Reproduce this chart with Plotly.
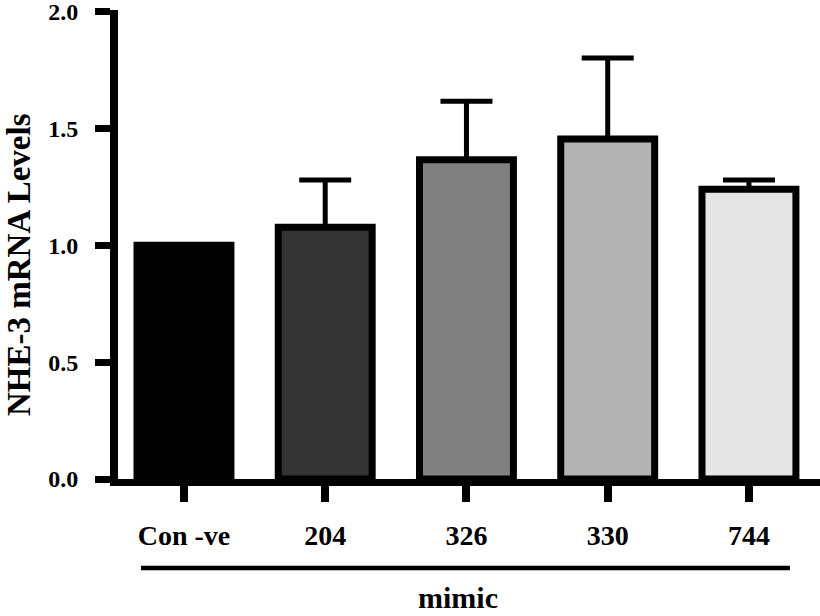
import plotly.graph_objects as go

categories = ["Con -ve", "204", "326", "330", "744"]
means = [1.00, 1.077, 1.365, 1.454, 1.239]
errors = [0.0, 0.202, 0.251, 0.347, 0.040]
bar_colors = ["#000000", "#333333", "#808080", "#b3b3b3", "#e5e5e5"]
y_ticks = [0.0, 0.5, 1.0, 1.5, 2.0]
y_ticktext = ["0.0", "0.5", "1.0", "1.5", "2.0"]
y_title = "NHE-3 mRNA Levels"
group_label = "mimic"

FONT = "Liberation Serif, Times New Roman, serif"

fig = go.Figure()
fig.add_trace(go.Bar(
    x=categories,
    y=means,
    width=0.665,
    marker=dict(color=bar_colors, line=dict(color="black", width=7)),
    error_y=dict(type="data", array=errors, arrayminus=[0] * len(errors),
                 symmetric=False, color="black", thickness=5, width=26),
    showlegend=False,
))

fig.update_layout(
    width=820, height=616,
    margin=dict(l=118, r=0, t=10, b=137),
    plot_bgcolor="white", paper_bgcolor="white",
    font=dict(family=FONT, color="black"),
    xaxis=dict(
        range=[-0.467, 4.503],
        showline=True, linewidth=7, linecolor="black",
        ticks="outside", ticklen=16, tickwidth=8, tickcolor="black",
        tickfont=dict(family=FONT, size=28, weight="bold", color="black"),
        ticklabelstandoff=9,
        showgrid=False, zeroline=False,
    ),
    yaxis=dict(
        range=[0, 2.006],
        tickvals=y_ticks, ticktext=y_ticktext,
        showline=True, linewidth=8, linecolor="black",
        ticks="outside", ticklen=15, tickwidth=7, tickcolor="black",
        tickfont=dict(family=FONT, size=24, weight="bold", color="black"),
        ticklabelstandoff=12,
        ticklabeloverflow="allow",
        showgrid=False, zeroline=False,
    ),
)

# y-axis title
fig.add_annotation(
    text=y_title, textangle=-90,
    xref="paper", yref="paper", x=(19 - 118) / 702, y=(479 - 265) / 469,
    xanchor="center", yanchor="middle", showarrow=False,
    font=dict(family=FONT, size=33, weight="bold", color="black"),
)

# group bracket line and label
fig.add_shape(
    type="line", xref="x", yref="paper",
    x0=-0.304, x1=4.29, y0=(479 - 568) / 469, y1=(479 - 568) / 469,
    line=dict(color="black", width=4.5),
)
fig.add_annotation(
    text=group_label,
    xref="paper", yref="paper", x=(458 - 118) / 702, y=(479 - 597) / 469,
    xanchor="center", yanchor="middle", showarrow=False,
    font=dict(family=FONT, size=30, weight="bold", color="black"),
)

fig.write_html("out.html", config={"displayModeBar": False},
               post_script="document.body.style.margin='0';")
